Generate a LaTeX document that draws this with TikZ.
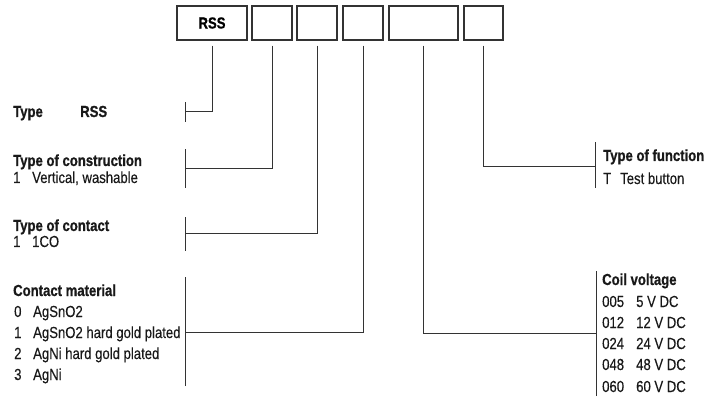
\documentclass[tikz,border=0pt]{standalone}
\usepackage{fontspec}
\setmainfont{Liberation Sans}[FakeStretch=0.82,FakeBold=0.3,BoldFeatures={FakeBold=0.8}]
\begin{document}
\begin{tikzpicture}[x=1pt,y=-1pt,
  font=\fontsize{16pt}{19pt}\selectfont,
  codebox/.style={draw=black!80,line width=1.2pt,minimum height=34pt,inner sep=0pt,font=\fontsize{16pt}{19pt}\selectfont\bfseries},
  conn/.style={draw=black!80,line width=1pt},
  lbl/.style={anchor=base west,inner sep=0pt,text=black!90},
  head/.style={lbl,font=\fontsize{16pt}{19pt}\selectfont\bfseries}]
\useasboundingbox (0,0) rectangle (705,401);
% code boxes
\node[codebox,minimum width=70pt] (b1) at (212,23) {RSS};
\node[codebox,minimum width=40pt] (b2) at (272,23) {};
\node[codebox,minimum width=40pt] (b3) at (317,23) {};
\node[codebox,minimum width=40pt] (b4) at (363,23) {};
\node[codebox,minimum width=69pt] (b5) at (423.5,23) {};
\node[codebox,minimum width=39pt] (b6) at (483.5,23) {};
% bracket joints
\coordinate (j1) at (185,112);
\coordinate (j2) at (185,169);
\coordinate (j3) at (185,234);
\coordinate (j4) at (185,332);
\coordinate (j5) at (596,333);
\coordinate (j6) at (595,167);
% connectors
\draw[conn] ([yshift=-5pt]b1.south) |- (j1);
\draw[conn] ([yshift=-5pt]b2.south) |- (j2);
\draw[conn] ([yshift=-5pt]b3.south) |- (j3);
\draw[conn] ([yshift=-5pt]b4.south) |- (j4);
\draw[conn] ([yshift=-5pt]b5.south) |- (j5);
\draw[conn] ([yshift=-5pt]b6.south) |- (j6);
% brackets
\draw[conn] ([yshift=-10pt]j1) -- ([yshift=10pt]j1);
\draw[conn] ([yshift=-19pt]j2) -- ([yshift=20pt]j2);
\draw[conn] ([yshift=-17pt]j3) -- ([yshift=17pt]j3);
\draw[conn] ([yshift=-54pt]j4) -- ([yshift=55pt]j4);
\draw[conn] ([yshift=-63pt]j5) -- ([yshift=62pt]j5);
\draw[conn] ([yshift=-21pt]j6) -- ([yshift=25pt]j6);
% left labels
\node[head] (t1) at (13,117) {Type};
\node[head] (t1v) at (80,117) {RSS};
\node[head] (t2) at (13,166) {Type of construction};
\node[lbl] (t2a) at (13,183) {1};
\node[lbl] (t2b) at (32,183) {Vertical, washable};
\node[head] (t3) at (13,231) {Type of contact};
\node[lbl] (t3a) at (13,247) {1};
\node[lbl] (t3b) at (32,247) {1CO};
\node[head] (t4) at (13,296) {Contact material};
\node[lbl] (t4a) at (14,317) {0};
\node[lbl] (t4b) at (33,317) {AgSnO2};
\node[lbl] (t4c) at (14,338) {1};
\node[lbl] (t4d) at (33,338) {AgSnO2 hard gold plated};
\node[lbl] (t4e) at (14,359) {2};
\node[lbl] (t4f) at (33,359) {AgNi hard gold plated};
\node[lbl] (t4g) at (14,380) {3};
\node[lbl] (t4h) at (33,380) {AgNi};
% right labels
\node[head] (t6) at (603,161) {Type of function};
\node[lbl] (t6a) at (603,184) {T};
\node[lbl] (t6b) at (620,184) {Test button};
\node[head] (t5) at (602,285) {Coil voltage};
\node[lbl] (c1) at (602,307) {005};
\node[lbl] (c1v) at (636,307) {5 V DC};
\node[lbl] (c2) at (602,328) {012};
\node[lbl] (c2v) at (636,328) {12 V DC};
\node[lbl] (c3) at (602,349) {024};
\node[lbl] (c3v) at (636,349) {24 V DC};
\node[lbl] (c4) at (602,370) {048};
\node[lbl] (c4v) at (636,370) {48 V DC};
\node[lbl] (c5) at (602,392) {060};
\node[lbl] (c5v) at (636,392) {60 V DC};
\end{tikzpicture}
\end{document}
